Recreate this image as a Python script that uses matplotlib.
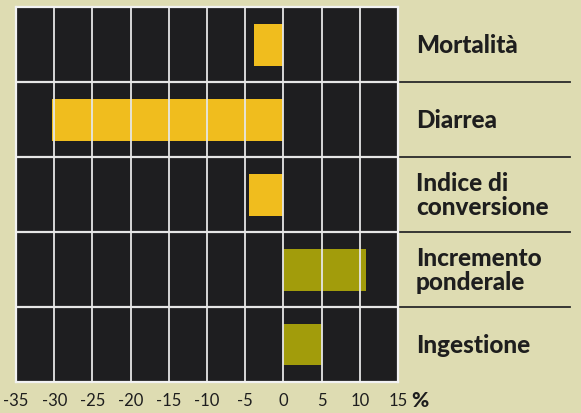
import matplotlib.pyplot as plt

# Dati (variazione %)
categorie = ["Mortalità", "Diarrea", "Indice di\nconversione", "Incremento\nponderale", "Ingestione"]
valori = [-3.8, -30.3, -4.5, 10.8, 5.0]
colori = ["#f0bd1e", "#f0bd1e", "#f0bd1e", "#a29c0b", "#a29c0b"]
tick_valori = [-35, -30, -25, -20, -15, -10, -5, 0, 5, 10, 15]

plt.rcParams['font.family'] = ['Lato', 'DejaVu Sans']

fig = plt.figure(figsize=(5.81, 4.14), dpi=100, facecolor="#dedcb2")
W, H = 581, 414
ax = fig.add_axes([16 / W, 31 / H, 382 / W, 375 / H])
ax.set_facecolor("#1e1e20")

y = list(range(len(categorie)))
ax.barh(y, valori, height=0.56, color=colori, zorder=1)

# griglia
for t in tick_valori:
    ax.axvline(t, color="#e6e6e6", lw=1.3, zorder=2)
for b in range(1, len(categorie)):
    ax.axhline(b - 0.5, color="#e6e6e6", lw=1.6, zorder=2)
    ax.plot([1.0, 1.45], [b - 0.5, b - 0.5], color="#2a2a2a", lw=1.3,
            transform=ax.get_yaxis_transform(), clip_on=False)

ax.set_xlim(-35, 15)
ax.set_ylim(len(categorie) - 0.5, -0.5)
ax.set_xticks(tick_valori)
ax.set_xticklabels([str(t) for t in tick_valori], fontsize=12, color="#1e1e1e")
ax.tick_params(axis="x", length=0, pad=7)
ax.set_yticks([])
for s in ax.spines.values():
    s.set_color("#f2f2f2")
    s.set_linewidth(1.6)

# etichette a destra
for yi, nome in zip(y, categorie):
    ax.text(1.047, yi, nome, transform=ax.get_yaxis_transform(), ha="left", va="center",
            fontsize=17.5, fontweight="black", color="#1e1e1e", linespacing=1.1)

ax.text(1.035, -0.046, "%", transform=ax.transAxes, ha="left", va="center",
        fontsize=15, fontweight="black", color="#1e1e1e")

plt.savefig("out.png", dpi=100, facecolor=fig.get_facecolor())
